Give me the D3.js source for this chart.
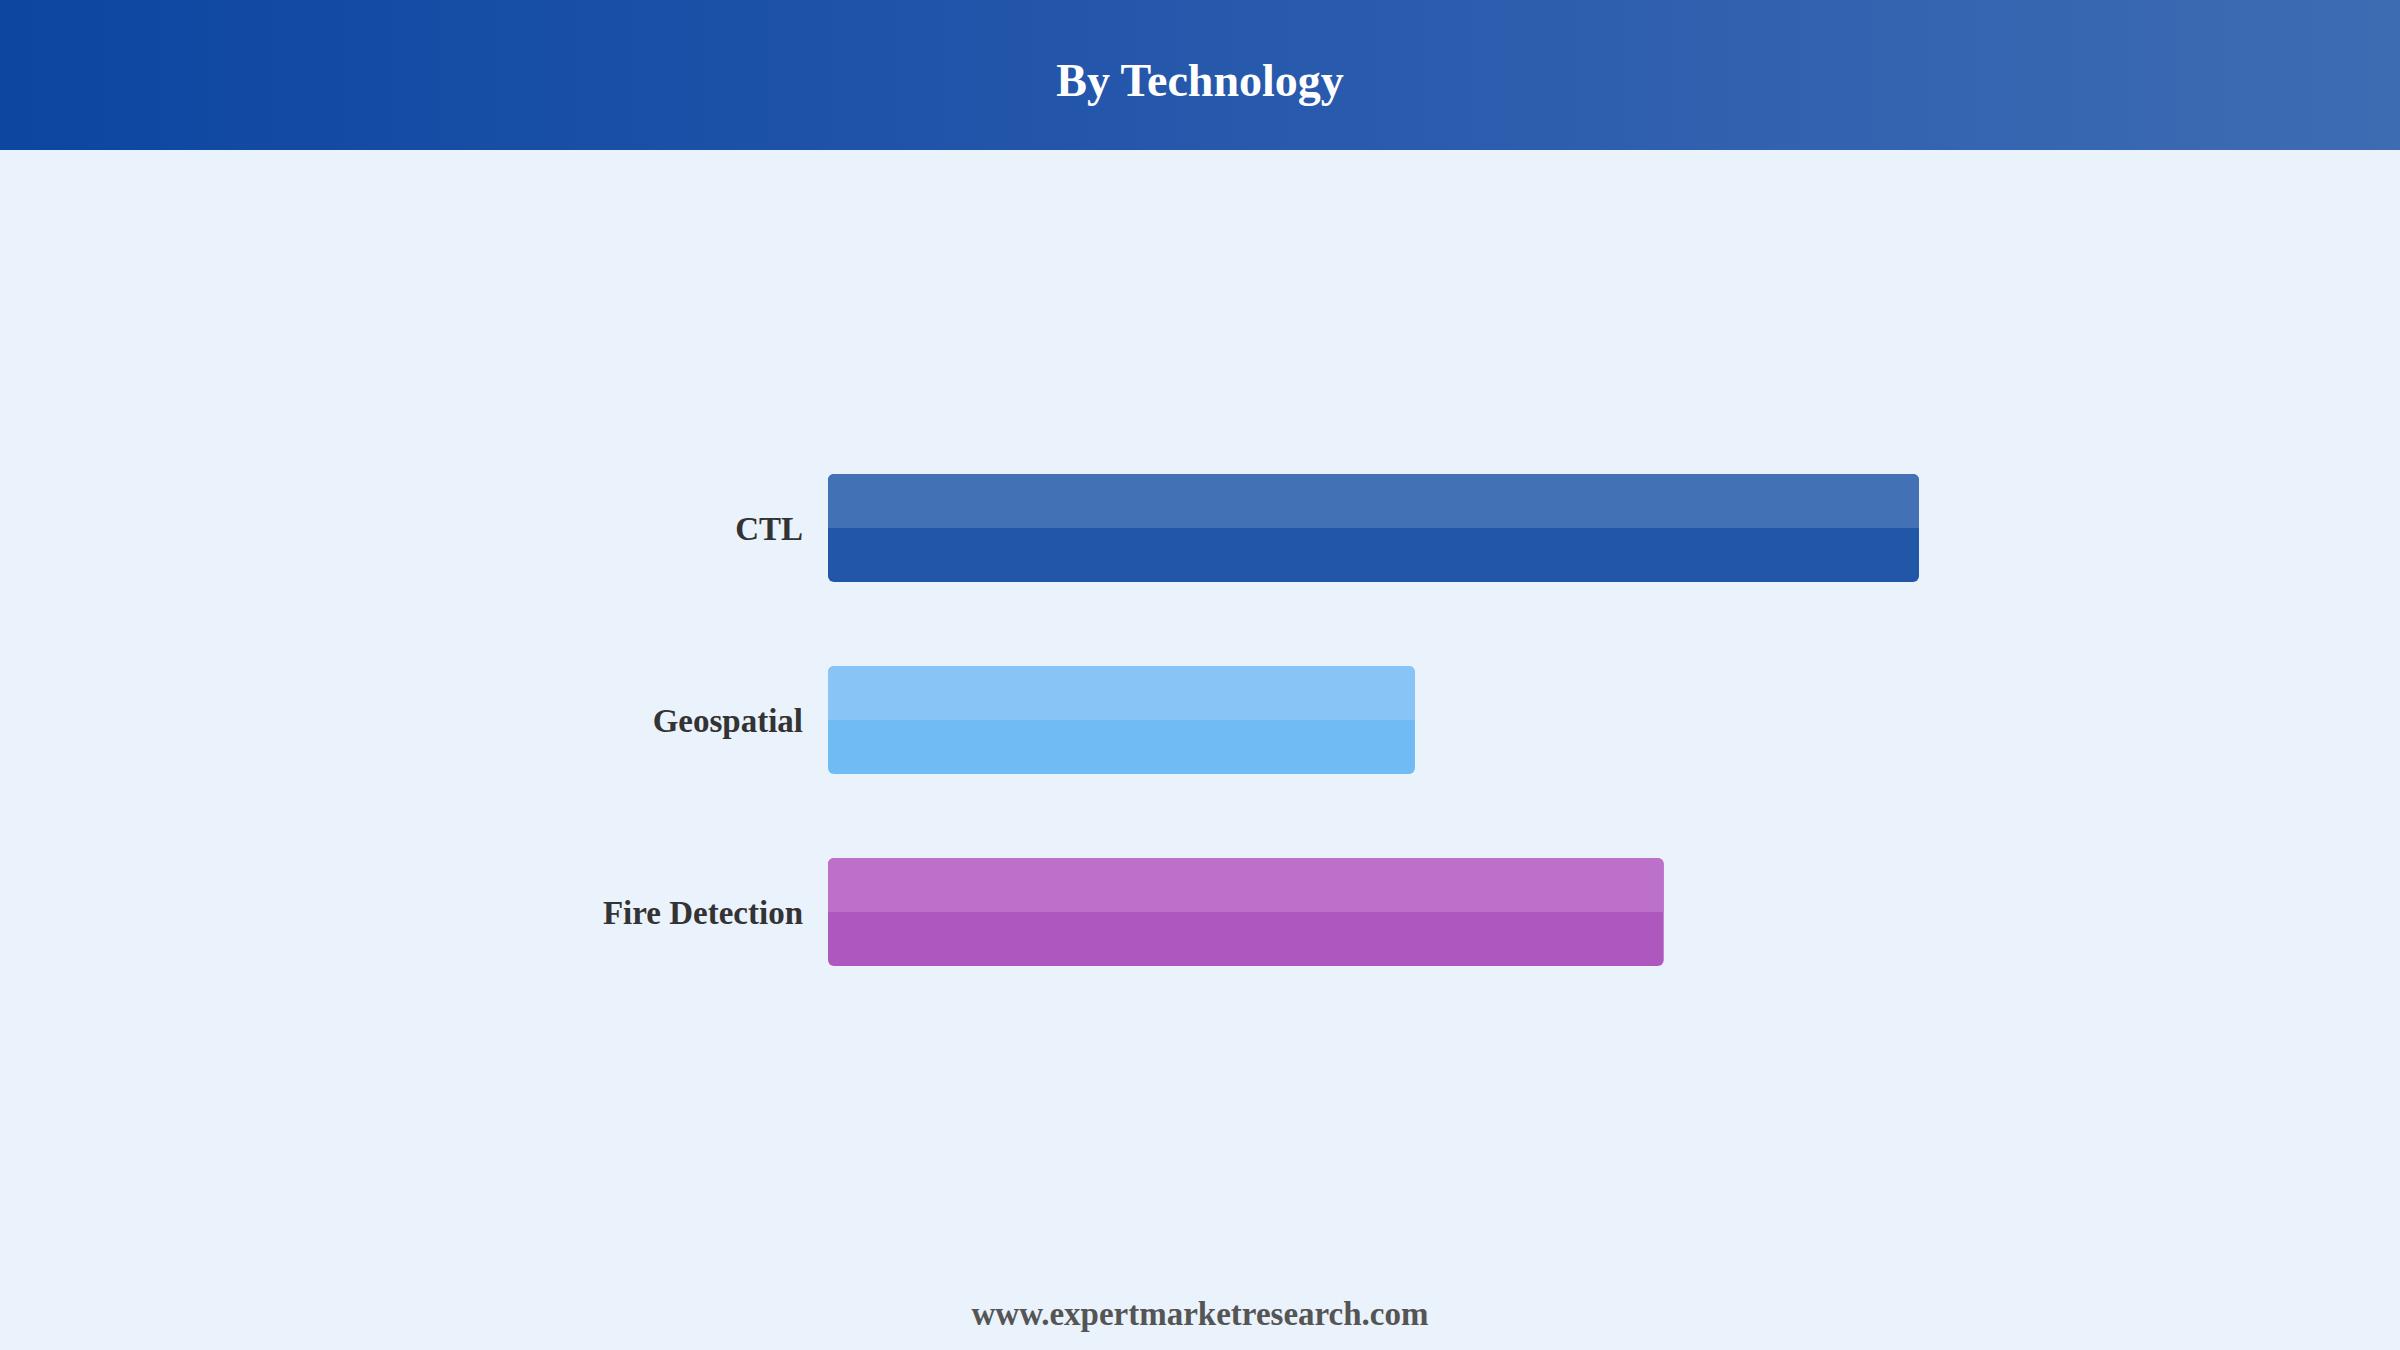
<!DOCTYPE html>
<html><head><meta charset="utf-8">
<script src="https://cdn.jsdelivr.net/npm/d3@7"></script>
<style>html,body{margin:0;padding:0;background:#eaf2fc;}svg{display:block;}</style>
</head><body>
<script>
const categories = ["CTL", "Geospatial", "Fire Detection"];
const values = [100, 53.8, 76.6];
const topColors = ["#4272b5", "#89c4f6", "#bd70c8"];
const bottomColors = ["#2257a8", "#70bbf4", "#ae57be"];
const title = "By Technology";
const footer = "www.expertmarketresearch.com";

const W = 2400, H = 1350;
const svg = d3.select("body").append("svg").attr("width", W).attr("height", H);
const defs = svg.append("defs");
const hg = defs.append("linearGradient").attr("id", "hdr").attr("x1", "0").attr("x2", "1").attr("y1", "0").attr("y2", "0");
hg.append("stop").attr("offset", "0").attr("stop-color", "#0c46a1");
hg.append("stop").attr("offset", "0.5").attr("stop-color", "#2658ac");
hg.append("stop").attr("offset", "1").attr("stop-color", "#3e6cb3");

svg.append("rect").attr("width", W).attr("height", H).attr("fill", "#eaf2fc");
svg.append("rect").attr("width", W).attr("height", 150).attr("fill", "url(#hdr)");
svg.append("text").attr("x", W / 2).attr("y", 96).attr("text-anchor", "middle")
  .attr("font-family", "'Liberation Serif', 'Times New Roman', serif").attr("font-weight", "bold")
  .attr("font-size", 46).attr("fill", "#ffffff").text(title);

const x = d3.scaleLinear().domain([0, d3.max(values)]).range([828, 1919]);
const y = d3.scaleBand().domain(categories).range([474, 966]).paddingInner(0.4375).paddingOuter(0);

const g = svg.append("g");
categories.forEach((c, i) => {
  const x0 = x(0), w = x(values[i]) - x(0), yy = y(c), bh = y.bandwidth();
  g.append("rect").attr("x", x0).attr("y", yy).attr("width", w).attr("height", bh)
    .attr("rx", 6).attr("fill", bottomColors[i]);
  const clipId = "clip" + i;
  defs.append("clipPath").attr("id", clipId).append("rect")
    .attr("x", x0).attr("y", yy).attr("width", w).attr("height", bh / 2);
  g.append("rect").attr("x", x0).attr("y", yy).attr("width", w).attr("height", bh)
    .attr("rx", 6).attr("fill", topColors[i]).attr("clip-path", `url(#${clipId})`);
  g.append("text").attr("x", 803).attr("y", yy + bh / 2).attr("dy", "0.35em")
    .attr("text-anchor", "end")
    .attr("font-family", "'Liberation Serif', 'Times New Roman', serif").attr("font-weight", "bold")
    .attr("font-size", 33).attr("fill", "#333333").text(c);
});

svg.append("text").attr("x", W / 2).attr("y", 1325).attr("text-anchor", "middle")
  .attr("font-family", "'Liberation Serif', 'Times New Roman', serif").attr("font-weight", "bold")
  .attr("font-size", 33).attr("fill", "#555555").text(footer);
</script>
</body></html>
